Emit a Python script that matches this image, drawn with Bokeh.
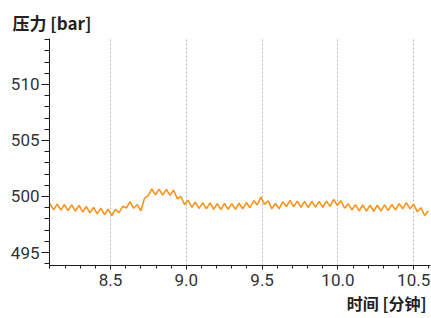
from bokeh.plotting import figure
from bokeh.models import FixedTicker, Range1d, PrintfTickFormatter, Title
from bokeh.embed import file_html
from bokeh.resources import INLINE

# ---- data ----
t_start = 8.1          # min
t_step = 0.024         # min, sampling interval of the listed values
pressure = [
    499.35, 498.82, 499.32, 498.78, 499.28, 498.74, 499.25, 498.70, 499.20, 498.62,
    499.10, 498.55, 499.02, 498.45, 498.95, 498.38, 498.86, 498.30, 498.85, 498.56,
    499.12, 498.98, 499.55, 498.95, 499.28, 498.72, 499.85, 500.05, 500.68, 500.15,
    500.66, 500.12, 500.64, 500.10, 500.58, 499.80, 500.00, 499.28, 499.66, 499.04,
    499.50, 498.94, 499.45, 498.90, 499.42, 498.86, 499.36, 498.84, 499.38, 498.86,
    499.36, 498.86, 499.40, 498.90, 499.46, 499.00, 499.62, 499.25, 499.95, 499.30,
    499.62, 498.90, 499.38, 498.90, 499.52, 499.10, 499.65, 499.08, 499.58, 499.04,
    499.56, 499.02, 499.55, 499.05, 499.56, 499.04, 499.58, 499.12, 499.75, 499.20,
    499.62, 498.95, 499.36, 498.80, 499.27, 498.72, 499.24, 498.70, 499.22, 498.68,
    499.22, 498.70, 499.25, 498.74, 499.28, 498.80, 499.36, 498.90, 499.45, 498.90,
    499.30, 498.65, 499.00, 498.30, 498.70,
]
time_min = [round(t_start + t_step * i, 3) for i in range(len(pressure))]

x_ticks = [8.5, 9.0, 9.5, 10.0, 10.5]
x_minor = [8.1, 8.2, 8.3, 8.4, 8.6, 8.7, 8.8, 8.9, 9.1, 9.2, 9.3, 9.4,
           9.6, 9.7, 9.8, 9.9, 10.1, 10.2, 10.3, 10.4, 10.6]
y_ticks = [495, 500, 505, 510]
y_minor = [494, 496, 497, 498, 499, 501, 502, 503, 504, 506, 507, 508, 509, 511, 512, 513, 514]

y_label = "压力 [bar]"
x_label = "时间 [分钟]"

# ---- figure ----
p = figure(width=431, height=318, output_backend="svg", toolbar_location=None,
           x_range=Range1d(8.097, 10.611), y_range=Range1d(493.84, 514.1),
           min_border_left=49, min_border_right=1, min_border_top=38, min_border_bottom=53)
p.outline_line_color = None
p.background_fill_color = "white"
p.border_fill_color = "white"

p.line(time_min, pressure, line_color="#F7941D", line_width=1.6)

for ax, ticks, minor in ((p.xaxis, x_ticks, x_minor), (p.yaxis, y_ticks, y_minor)):
    ax.ticker = FixedTicker(ticks=ticks, minor_ticks=minor)
    ax.axis_line_color = "#1a1a1a"
    ax.major_tick_line_color = "#1a1a1a"
    ax.minor_tick_line_color = "#1a1a1a"
    ax.major_tick_in = 0
    ax.minor_tick_in = 0
    ax.major_label_text_font = "Roboto"
    ax.major_label_text_font_size = "17px"
    ax.major_label_text_color = "#333333"

p.xaxis.formatter = PrintfTickFormatter(format="%.1f")
p.yaxis.formatter = PrintfTickFormatter(format="%d")
p.xaxis.major_tick_out = 4
p.xaxis.minor_tick_out = 3
p.xaxis.major_label_standoff = 4
p.yaxis.major_tick_out = 8
p.yaxis.minor_tick_out = 5
p.yaxis.major_label_standoff = 2

p.ygrid.grid_line_color = None
p.xgrid.ticker = FixedTicker(ticks=x_ticks)
p.xgrid.grid_line_color = "#b5b5b5"
p.xgrid.grid_line_dash = "2 2"
p.xgrid.grid_line_width = 1

p.title.text = y_label
p.title.align = "left"
p.title.offset = -37
p.title.text_font = "Noto Sans CJK SC"
p.title.text_font_size = "17px"
p.title.text_font_style = "bold"
p.title.text_color = "#222222"
p.title.standoff = 8

p.add_layout(Title(text=x_label, align="right", offset=4, text_font="Noto Sans CJK SC",
                   text_font_size="16px", text_font_style="bold", text_color="#222222",
                   standoff=0), "below")

open("out.html", "w").write(file_html(p, INLINE))
